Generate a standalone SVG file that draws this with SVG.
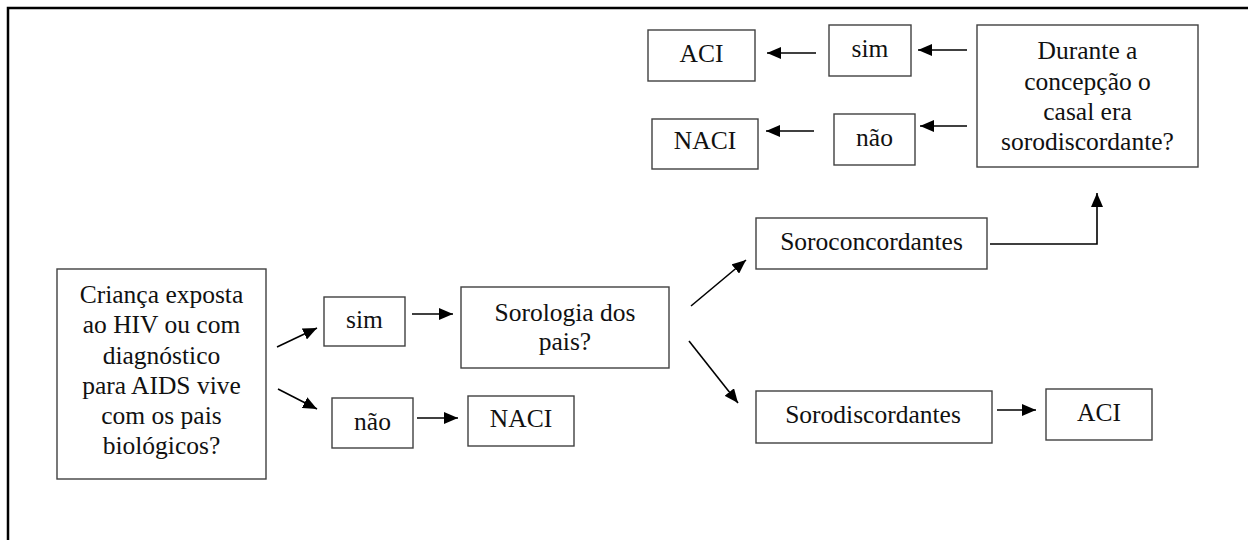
<svg xmlns="http://www.w3.org/2000/svg" width="1248" height="540" viewBox="0 0 1248 540">
  <style>
    .box { fill: #fff; stroke: #404040; stroke-width: 1.4; }
    .lbl { font-family: "Liberation Serif", "Times New Roman", serif; font-size: 25.5px; fill: #111; text-anchor: middle; }
    .edge { fill: none; stroke: #000; stroke-width: 1.6; }
    .frame { fill: none; stroke: #000; stroke-width: 2.5; }
  </style>
  <defs>
    <marker id="arrow" viewBox="0 0 14 12" refX="14" refY="6" markerWidth="14" markerHeight="12" markerUnits="userSpaceOnUse" orient="auto">
      <path d="M0,0 L14,6 L0,12 Z" fill="#000"/>
    </marker>
  </defs>
  <rect width="1248" height="540" fill="#fff"/>

  <!-- page frame: top and left edges only -->
  <path class="frame" d="M8,540 L8,8 L1248,8"/>

  <!-- connectors -->
  <g id="connectors">
    <line class="edge" x1="277" y1="347" x2="317" y2="328" marker-end="url(#arrow)"/>
    <line class="edge" x1="278" y1="389" x2="317" y2="409" marker-end="url(#arrow)"/>
    <line class="edge" x1="412" y1="314" x2="453" y2="314" marker-end="url(#arrow)"/>
    <line class="edge" x1="417" y1="418" x2="458" y2="418" marker-end="url(#arrow)"/>
    <line class="edge" x1="691" y1="306" x2="746" y2="260" marker-end="url(#arrow)"/>
    <line class="edge" x1="689" y1="341" x2="738" y2="403" marker-end="url(#arrow)"/>
    <line class="edge" x1="997" y1="410" x2="1036" y2="410" marker-end="url(#arrow)"/>
    <path class="edge" d="M990,244 L1097,244 L1097,193" marker-end="url(#arrow)"/>
    <line class="edge" x1="967" y1="50" x2="918" y2="50" marker-end="url(#arrow)"/>
    <line class="edge" x1="967" y1="126" x2="920" y2="126" marker-end="url(#arrow)"/>
    <line class="edge" x1="816" y1="53" x2="767" y2="53" marker-end="url(#arrow)"/>
    <line class="edge" x1="814" y1="131" x2="766" y2="131" marker-end="url(#arrow)"/>
  </g>

  <!-- nodes -->
  <g id="crianca">
    <rect class="box" x="57" y="269" width="209" height="210"/>
    <text class="lbl" x="161.5" y="303">Criança exposta</text>
    <text class="lbl" x="161.5" y="333">ao HIV ou com</text>
    <text class="lbl" x="161.5" y="363.5">diagnóstico</text>
    <text class="lbl" x="161.5" y="393.5">para AIDS vive</text>
    <text class="lbl" x="161.5" y="424">com os pais</text>
    <text class="lbl" x="161.5" y="454">biológicos?</text>
  </g>
  <g id="sim1">
    <rect class="box" x="324" y="297" width="81" height="49"/>
    <text class="lbl" x="364.5" y="328">sim</text>
  </g>
  <g id="nao1">
    <rect class="box" x="332" y="398" width="81" height="50"/>
    <text class="lbl" x="372.5" y="430">não</text>
  </g>
  <g id="sorologia">
    <rect class="box" x="461" y="287" width="208" height="81"/>
    <text class="lbl" x="565" y="321">Sorologia dos</text>
    <text class="lbl" x="565" y="350">pais?</text>
  </g>
  <g id="naci1">
    <rect class="box" x="468" y="396" width="106" height="50"/>
    <text class="lbl" x="521" y="427">NACI</text>
  </g>
  <g id="soroconcordantes">
    <rect class="box" x="756" y="218" width="231" height="51"/>
    <text class="lbl" x="871.5" y="250">Soroconcordantes</text>
  </g>
  <g id="sorodiscordantes">
    <rect class="box" x="756" y="391" width="236" height="52"/>
    <text class="lbl" x="873" y="423">Sorodiscordantes</text>
  </g>
  <g id="aci1">
    <rect class="box" x="1046" y="389" width="106" height="51"/>
    <text class="lbl" x="1099" y="421">ACI</text>
  </g>
  <g id="durante">
    <rect class="box" x="977" y="25" width="221" height="142"/>
    <text class="lbl" x="1087.5" y="59">Durante a</text>
    <text class="lbl" x="1087.5" y="89.5">concepção o</text>
    <text class="lbl" x="1087.5" y="120">casal era</text>
    <text class="lbl" x="1087.5" y="150">sorodiscordante?</text>
  </g>
  <g id="sim2">
    <rect class="box" x="829" y="25" width="82" height="51"/>
    <text class="lbl" x="870" y="57">sim</text>
  </g>
  <g id="nao2">
    <rect class="box" x="834" y="114" width="81" height="51"/>
    <text class="lbl" x="874.5" y="146">não</text>
  </g>
  <g id="aci2">
    <rect class="box" x="648" y="30" width="107" height="51"/>
    <text class="lbl" x="701.5" y="62">ACI</text>
  </g>
  <g id="naci2">
    <rect class="box" x="652" y="119" width="106" height="50"/>
    <text class="lbl" x="705" y="149">NACI</text>
  </g>
</svg>
